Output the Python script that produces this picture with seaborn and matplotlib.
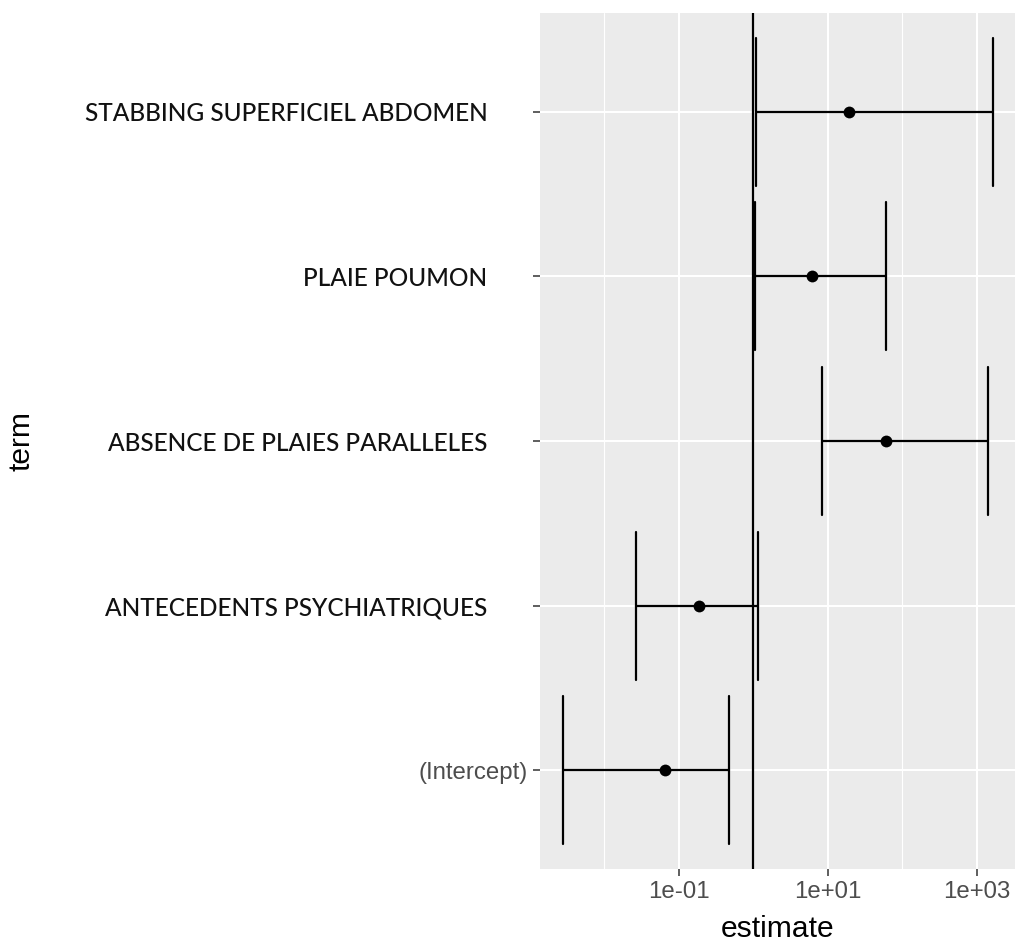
import numpy as np
import pandas as pd
import matplotlib
matplotlib.use("Agg")
import matplotlib.pyplot as plt
import matplotlib.transforms as mtransforms
from matplotlib.ticker import FixedLocator, NullFormatter
import seaborn as sns

# model terms, top to bottom as shown on the chart
terms = [
    "STABBING SUPERFICIEL ABDOMEN",
    "PLAIE POUMON",
    "ABSENCE DE PLAIES PARALLELES",
    "ANTECEDENTS PSYCHIATRIQUES",
    "(Intercept)",
]
estimate = [19.4, 6.1, 59.8, 0.188, 0.0653]
conf_low = [1.08, 1.04, 8.3, 0.0264, 0.0028]
conf_high = [1665, 60, 1400, 1.15, 0.476]

major_ticks = [1e-1, 1e1, 1e3]
major_labels = ["1e-01", "1e+01", "1e+03"]
minor_ticks = [1e-2, 1e0, 1e2]


def build_long(terms, estimate, conf_low, conf_high) -> pd.DataFrame:
    ''' one row per value so that seaborn draws point + interval '''
    rows = []
    for t, e, lo, hi in zip(terms, estimate, conf_low, conf_high):
        for v in (lo, e, hi):
            rows.append({"term": t, "estimate": v})
    return pd.DataFrame(rows)


def main():
    df = build_long(terms, estimate, conf_low, conf_high)

    sns.set_theme(style="darkgrid")
    plt.rcParams["font.family"] = ["Liberation Sans", "DejaVu Sans"]

    fig = plt.figure(figsize=(10.15, 9.41), dpi=100)
    ax = fig.add_axes([540 / 1015, 1 - 869 / 941, 475 / 1015, 856 / 941])
    ax.set_facecolor("#EBEBEB")

    ax.axvline(1, color="black", linewidth=1.6, zorder=2)

    sns.pointplot(
        data=df, x="estimate", y="term", order=terms,
        estimator="median", errorbar=lambda v: (v.min(), v.max()),
        capsize=0.9, color="black", linestyle="none", markers="o",
        markersize=8.5, markeredgewidth=0,
        err_kws={"linewidth": 1.6, "linestyle": "-", "color": "black"},
        log_scale=(True, False), ax=ax, zorder=3,
    )

    ax.set_xlim(10 ** -2.863, 10 ** 3.513)
    ax.set_ylim(4.6, -0.6)

    ax.xaxis.set_major_locator(FixedLocator(major_ticks))
    ax.set_xticklabels(major_labels)
    ax.xaxis.set_minor_locator(FixedLocator(minor_ticks))
    ax.xaxis.set_minor_formatter(NullFormatter())

    ax.grid(which="major", color="white", linewidth=1.5)
    ax.grid(which="minor", axis="x", color="white", linewidth=0.8)
    ax.set_axisbelow(True)
    for s in ax.spines.values():
        s.set_visible(False)

    ax.tick_params(axis="both", which="major", direction="out", length=5,
                   width=1.1, color="#333333", labelsize=17.3,
                   labelcolor="#4D4D4D", pad=4, bottom=True, left=True)
    ax.tick_params(axis="x", which="minor", length=0)

    # term labels in a different face, pushed left of the tick
    shift = mtransforms.ScaledTranslation(-40 / 100, 0, fig.dpi_scale_trans)
    for lab in ax.get_yticklabels():
        if lab.get_text() != "(Intercept)":
            lab.set_fontfamily(["Lato", "DejaVu Sans"])
            lab.set_fontsize(17.6)
            lab.set_fontweight("medium")
            lab.set_color("#111111")
            lab.set_transform(lab.get_transform() + shift)

    ax.set_xlabel("estimate", fontsize=21.6, color="black", va="center")
    ax.set_ylabel("term", fontsize=21.6, color="black", va="center")
    ax.xaxis.set_label_coords(0.5, (869 - 929) / 856)
    ax.yaxis.set_label_coords((21 - 540) / 475, 0.5)

    fig.savefig("out.png", dpi=100, facecolor="white")


if __name__ == "__main__":
    main()
